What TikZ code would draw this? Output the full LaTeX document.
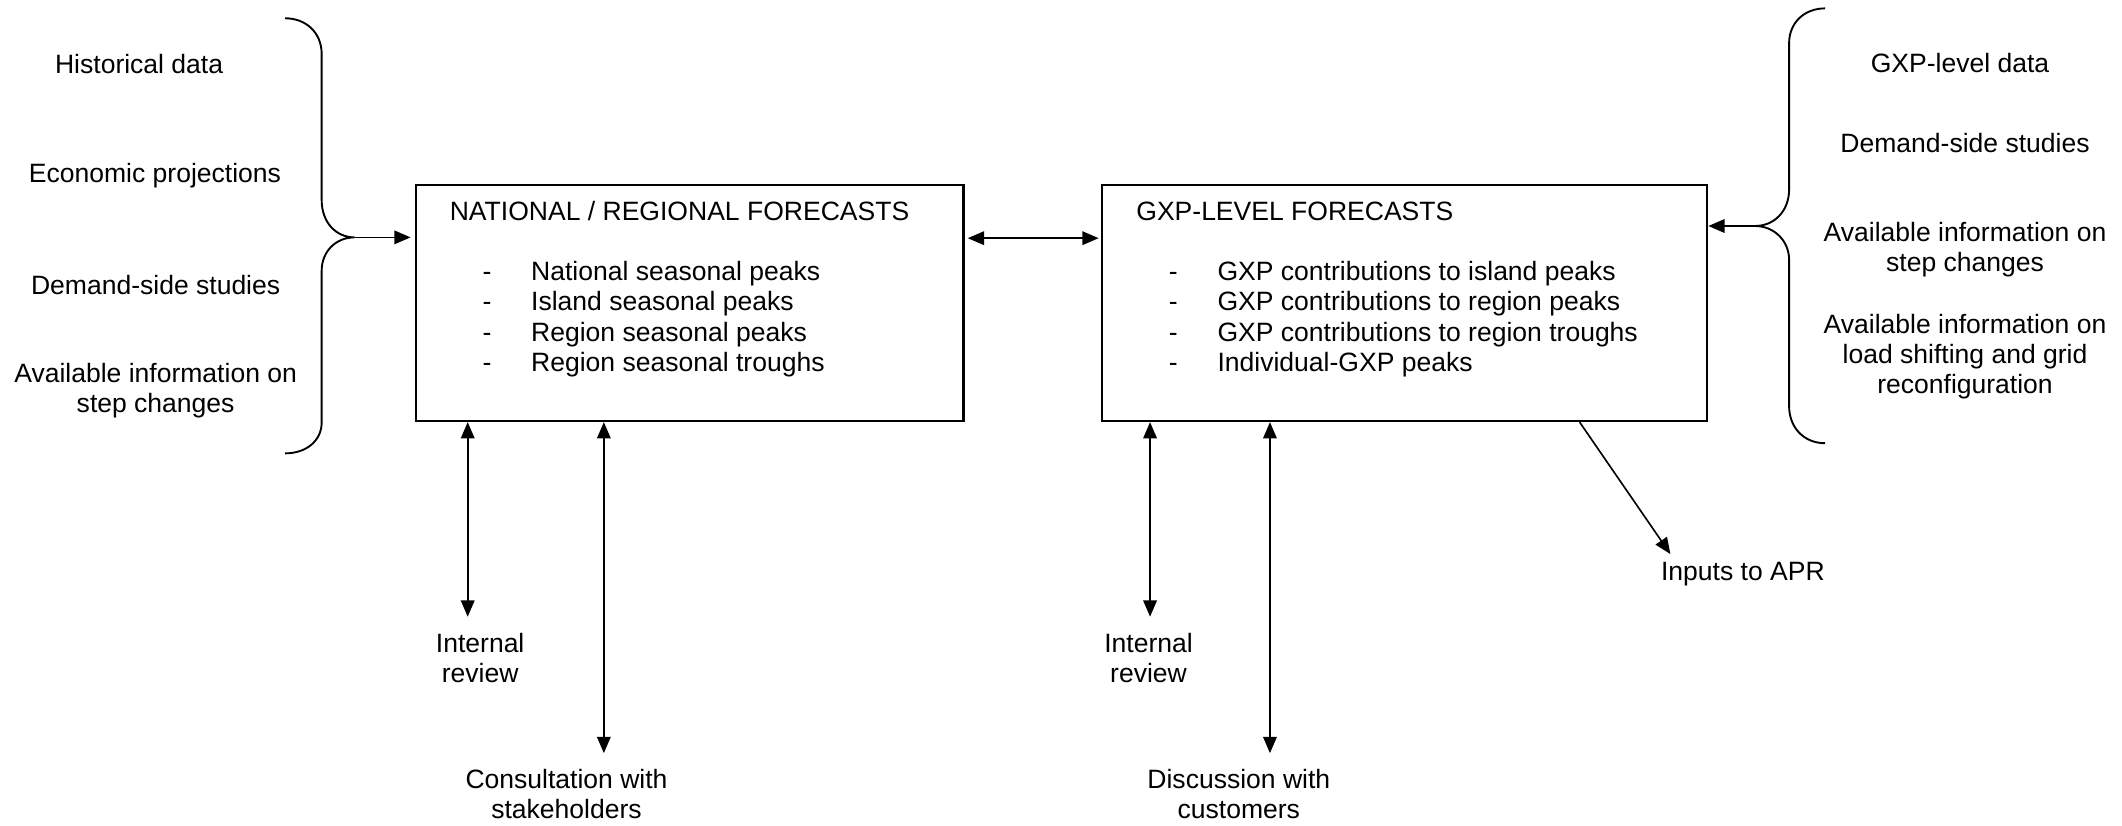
\documentclass[tikz,border=0pt]{standalone}
\usepackage{fontspec}
\setmainfont{Liberation Sans}
\usetikzlibrary{arrows.meta}
\newcommand\myfont{\fontsize{9.8}{11.1}\selectfont}
\newcommand\listfont{\fontsize{9.8}{11.3}\selectfont}
\newcommand\ditem[2]{\makebox[#1][l]{-}#2}
\tikzset{
  lbl/.style={inner sep=0pt, align=center, font=\myfont},
  txt/.style={inner sep=0pt, align=left, font=\listfont},
  box/.style={draw, line width=0.75pt, inner sep=0pt, anchor=north west, minimum height=87.2pt},
  arr/.style={-{Triangle[length=6pt,width=5pt]}, line width=0.6pt},
  dbl/.style={{Triangle[length=6pt,width=5pt]}-{Triangle[length=6pt,width=5pt]}, line width=0.6pt},
  brace/.style={line width=0.7pt}
}
\begin{document}
\begin{tikzpicture}[x=0.5pt, y=-0.5pt]
\useasboundingbox (0,0) rectangle (1568,610);
% boxes
\node[box, minimum width=202.4pt] (lbox) at (306.4,136) {};
\node[box, minimum width=223.5pt] (rbox) at (813.8,136) {};
% box texts (base anchor = baseline of last line)
\node[txt, anchor=base west] (ltitle) at (332,162.6) {NATIONAL / REGIONAL FORECASTS};
\node[txt, anchor=base west] (llist) at (356.3,274.7) {\ditem{17.9pt}{National seasonal peaks}\\\ditem{17.9pt}{Island seasonal peaks}\\\ditem{17.9pt}{Region seasonal peaks}\\\ditem{17.9pt}{Region seasonal troughs}};
\node[txt, anchor=base west] (rtitle) at (839.3,162.6) {GXP-LEVEL FORECASTS};
\node[txt, anchor=base west] (rlist) at (863.3,274.7) {\ditem{18pt}{GXP contributions to island peaks}\\\ditem{18pt}{GXP contributions to region peaks}\\\ditem{18pt}{GXP contributions to region troughs}\\\ditem{18pt}{Individual-GXP peaks}};
% left labels
\node[lbl, anchor=base] (hist) at (102.8,54.2) {Historical data};
\node[lbl, anchor=base] (econ) at (114.5,135) {Economic projections};
\node[lbl, anchor=base] (dss1) at (115,217.3) {Demand-side studies};
\node[lbl, anchor=base] (avl1) at (115,305) {Available information on\\step changes};
% right labels
\node[lbl, anchor=base] (gxpd) at (1448.3,53.7) {GXP-level data};
\node[lbl, anchor=base] (dss2) at (1452,112.8) {Demand-side studies};
\node[lbl, anchor=base] (avl2) at (1452,200.8) {Available information on\\step changes};
\node[lbl, anchor=base] (avl3) at (1452,290.7) {Available information on\\load shifting and grid\\reconfiguration};
% bottom labels
\node[lbl, anchor=base] (ir1) at (354.8,504.5) {Internal\\review};
\node[lbl, anchor=base] (cons) at (418.6,604.7) {Consultation with\\stakeholders};
\node[lbl, anchor=base] (ir2) at (848.7,504.5) {Internal\\review};
\node[lbl, anchor=base] (disc) at (915.4,604.7) {Discussion with\\customers};
\node[lbl, anchor=base west] (apr) at (1227,428.6) {Inputs to APR};
% braces
\coordinate (lcusp) at (262,175.4);
\draw[brace] (210.6,13.5) .. controls (226,13.5) and (237.7,24) .. (237.7,40) -- (237.7,148) .. controls (237.7,164) and (248,175.4) .. (lcusp) .. controls (248,175.4) and (237.7,186) .. (237.7,200) -- (237.7,312) .. controls (237.7,326) and (226,335) .. (210.6,335);
\coordinate (rcusp) at (1296.8,167);
\draw[brace] (1348.6,6.2) .. controls (1333,6.2) and (1322,17) .. (1322,32) -- (1322,140) .. controls (1322,156) and (1311,167) .. (rcusp) .. controls (1311,167) and (1322,178) .. (1322,192) -- (1322,300) .. controls (1322,316) and (1333,327.5) .. (1348.6,327.5);
% connectors
\draw[arr, shorten >=1.5pt] (lcusp) -- (lcusp -| lbox.west);
\draw[arr] (rcusp) -- (rcusp -| rbox.east);
\coordinate (mid) at (0,176);
\draw[dbl, shorten <=1.2pt, shorten >=1pt] (mid -| lbox.east) -- (mid -| rbox.west);
\coordinate (e1) at (345.6,455.7);
\coordinate (e2) at (446.2,556.5);
\coordinate (e3) at (849.8,455.7);
\coordinate (e4) at (938.4,556.5);
\draw[dbl] (e1 |- lbox.south) -- (e1);
\draw[dbl] (e2 |- lbox.south) -- (e2);
\draw[dbl] (e3 |- rbox.south) -- (e3);
\draw[dbl] (e4 |- rbox.south) -- (e4);
\coordinate (aprtip) at (1234.3,409.4);
\coordinate (aprfrom) at (1167.2,0);
\draw[arr] (aprfrom |- rbox.south) -- (aprtip);
\end{tikzpicture}
\end{document}
